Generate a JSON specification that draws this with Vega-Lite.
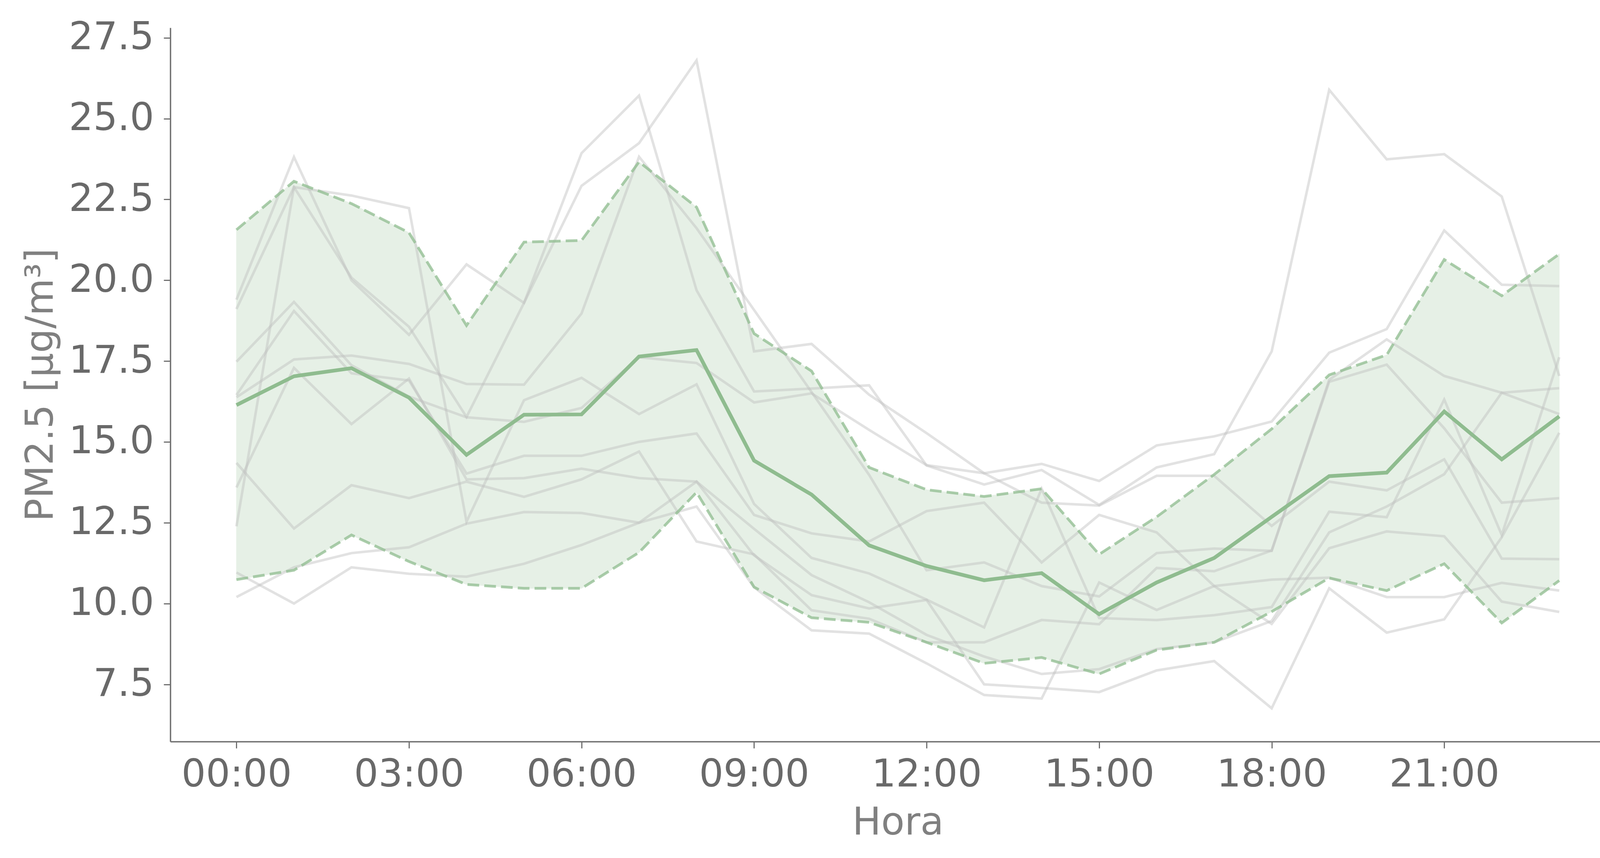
{
  "$schema": "https://vega.github.io/schema/vega-lite/v6.json",
  "width": 4199,
  "height": 2196,
  "autosize": {"type": "fit", "contains": "padding"},
  "padding": {"left": 56, "top": 52, "right": 38, "bottom": 41},
  "background": "white",
  "config": {
    "view": {"stroke": null},
    "font": "DejaVu Sans",
    "axis": {
      "grid": false,
      "domainColor": "#707070",
      "domainWidth": 3.5,
      "tickColor": "#707070",
      "tickWidth": 3,
      "tickSize": 17,
      "labelFont": "DejaVu Sans",
      "labelFontSize": 98,
      "labelLimit": 2000,
      "labelColor": "#696969",
      "titleFont": "DejaVu Sans",
      "titleFontSize": 98,
      "titleFontWeight": "normal",
      "titleColor": "#808080",
      "titleLimit": 3000
    }
  },
  "datasets": {
    "days": [
      {"d":"1","h":0,"v":19.40},{"d":"1","h":1,"v":23.81},{"d":"1","h":2,"v":20.00},{"d":"1","h":3,"v":18.31},{"d":"1","h":4,"v":20.49},{"d":"1","h":5,"v":19.30},{"d":"1","h":6,"v":22.92},{"d":"1","h":7,"v":24.24},{"d":"1","h":8,"v":26.80},{"d":"1","h":9,"v":17.80},{"d":"1","h":10,"v":18.03},{"d":"1","h":11,"v":16.46},{"d":"1","h":12,"v":15.27},{"d":"1","h":13,"v":14.03},{"d":"1","h":14,"v":14.32},{"d":"1","h":15,"v":13.79},{"d":"1","h":16,"v":14.89},{"d":"1","h":17,"v":15.17},{"d":"1","h":18,"v":15.63},{"d":"1","h":19,"v":17.76},{"d":"1","h":20,"v":18.49},{"d":"1","h":21,"v":21.54},{"d":"1","h":22,"v":19.86},{"d":"1","h":23,"v":19.82},
      {"d":"2","h":0,"v":19.11},{"d":"2","h":1,"v":22.88},{"d":"2","h":2,"v":20.08},{"d":"2","h":3,"v":18.56},{"d":"2","h":4,"v":15.77},{"d":"2","h":5,"v":19.30},{"d":"2","h":6,"v":23.93},{"d":"2","h":7,"v":25.71},{"d":"2","h":8,"v":19.69},{"d":"2","h":9,"v":16.56},{"d":"2","h":10,"v":16.65},{"d":"2","h":11,"v":16.75},{"d":"2","h":12,"v":14.27},{"d":"2","h":13,"v":13.68},{"d":"2","h":14,"v":14.13},{"d":"2","h":15,"v":13.05},{"d":"2","h":16,"v":14.21},{"d":"2","h":17,"v":14.62},{"d":"2","h":18,"v":17.80},{"d":"2","h":19,"v":25.89},{"d":"2","h":20,"v":23.74},{"d":"2","h":21,"v":23.90},{"d":"2","h":22,"v":22.59},{"d":"2","h":23,"v":17.04},
      {"d":"3","h":0,"v":12.39},{"d":"3","h":1,"v":22.88},{"d":"3","h":2,"v":22.62},{"d":"3","h":3,"v":22.23},{"d":"3","h":4,"v":12.53},{"d":"3","h":5,"v":16.29},{"d":"3","h":6,"v":16.98},{"d":"3","h":7,"v":15.86},{"d":"3","h":8,"v":16.78},{"d":"3","h":9,"v":13.08},{"d":"3","h":10,"v":11.41},{"d":"3","h":11,"v":10.93},{"d":"3","h":12,"v":10.12},{"d":"3","h":13,"v":9.26},{"d":"3","h":14,"v":13.55},{"d":"3","h":15,"v":9.55},{"d":"3","h":16,"v":9.49},{"d":"3","h":17,"v":9.64},{"d":"3","h":18,"v":9.89},{"d":"3","h":19,"v":12.84},{"d":"3","h":20,"v":12.67},{"d":"3","h":21,"v":16.31},{"d":"3","h":22,"v":12.12},{"d":"3","h":23,"v":17.62},
      {"d":"4","h":0,"v":16.38},{"d":"4","h":1,"v":17.55},{"d":"4","h":2,"v":17.67},{"d":"4","h":3,"v":17.41},{"d":"4","h":4,"v":16.79},{"d":"4","h":5,"v":16.77},{"d":"4","h":6,"v":18.97},{"d":"4","h":7,"v":23.82},{"d":"4","h":8,"v":21.61},{"d":"4","h":9,"v":19.08},{"d":"4","h":10,"v":16.54},{"d":"4","h":11,"v":13.98},{"d":"4","h":12,"v":11.03},{"d":"4","h":13,"v":11.27},{"d":"4","h":14,"v":10.54},{"d":"4","h":15,"v":10.22},{"d":"4","h":16,"v":11.56},{"d":"4","h":17,"v":11.70},{"d":"4","h":18,"v":11.63},{"d":"4","h":19,"v":16.92},{"d":"4","h":20,"v":18.17},{"d":"4","h":21,"v":17.04},{"d":"4","h":22,"v":16.52},{"d":"4","h":23,"v":16.66},
      {"d":"5","h":0,"v":17.48},{"d":"5","h":1,"v":19.33},{"d":"5","h":2,"v":17.37},{"d":"5","h":3,"v":16.40},{"d":"5","h":4,"v":15.76},{"d":"5","h":5,"v":15.62},{"d":"5","h":6,"v":16.05},{"d":"5","h":7,"v":17.62},{"d":"5","h":8,"v":17.44},{"d":"5","h":9,"v":16.22},{"d":"5","h":10,"v":16.50},{"d":"5","h":11,"v":15.37},{"d":"5","h":12,"v":14.28},{"d":"5","h":13,"v":14.03},{"d":"5","h":14,"v":13.12},{"d":"5","h":15,"v":13.03},{"d":"5","h":16,"v":13.95},{"d":"5","h":17,"v":13.95},{"d":"5","h":18,"v":12.40},{"d":"5","h":19,"v":13.77},{"d":"5","h":20,"v":13.50},{"d":"5","h":21,"v":14.46},{"d":"5","h":22,"v":11.39},{"d":"5","h":23,"v":11.37},
      {"d":"6","h":0,"v":16.45},{"d":"6","h":1,"v":19.05},{"d":"6","h":2,"v":17.12},{"d":"6","h":3,"v":16.90},{"d":"6","h":4,"v":14.02},{"d":"6","h":5,"v":14.57},{"d":"6","h":6,"v":14.57},{"d":"6","h":7,"v":15.00},{"d":"6","h":8,"v":15.26},{"d":"6","h":9,"v":12.74},{"d":"6","h":10,"v":12.17},{"d":"6","h":11,"v":11.92},{"d":"6","h":12,"v":12.86},{"d":"6","h":13,"v":13.12},{"d":"6","h":14,"v":11.27},{"d":"6","h":15,"v":12.74},{"d":"6","h":16,"v":12.20},{"d":"6","h":17,"v":10.54},{"d":"6","h":18,"v":9.37},{"d":"6","h":19,"v":11.71},{"d":"6","h":20,"v":12.23},{"d":"6","h":21,"v":12.08},{"d":"6","h":22,"v":10.06},{"d":"6","h":23,"v":9.74},
      {"d":"7","h":0,"v":13.59},{"d":"7","h":1,"v":17.29},{"d":"7","h":2,"v":15.55},{"d":"7","h":3,"v":16.96},{"d":"7","h":4,"v":13.84},{"d":"7","h":5,"v":13.88},{"d":"7","h":6,"v":14.17},{"d":"7","h":7,"v":13.88},{"d":"7","h":8,"v":13.77},{"d":"7","h":9,"v":12.31},{"d":"7","h":10,"v":10.88},{"d":"7","h":11,"v":10.04},{"d":"7","h":12,"v":9.03},{"d":"7","h":13,"v":8.36},{"d":"7","h":14,"v":7.82},{"d":"7","h":15,"v":7.97},{"d":"7","h":16,"v":8.59},{"d":"7","h":17,"v":8.80},{"d":"7","h":18,"v":9.46},{"d":"7","h":19,"v":12.20},{"d":"7","h":20,"v":13.00},{"d":"7","h":21,"v":14.00},{"d":"7","h":22,"v":16.52},{"d":"7","h":23,"v":15.86},
      {"d":"8","h":0,"v":14.35},{"d":"8","h":1,"v":12.32},{"d":"8","h":2,"v":13.66},{"d":"8","h":3,"v":13.26},{"d":"8","h":4,"v":13.77},{"d":"8","h":5,"v":13.30},{"d":"8","h":6,"v":13.84},{"d":"8","h":7,"v":14.70},{"d":"8","h":8,"v":11.92},{"d":"8","h":9,"v":11.52},{"d":"8","h":10,"v":9.79},{"d":"8","h":11,"v":9.53},{"d":"8","h":12,"v":8.80},{"d":"8","h":13,"v":8.80},{"d":"8","h":14,"v":9.49},{"d":"8","h":15,"v":9.36},{"d":"8","h":16,"v":11.10},{"d":"8","h":17,"v":11.00},{"d":"8","h":18,"v":11.64},{"d":"8","h":19,"v":16.86},{"d":"8","h":20,"v":17.39},{"d":"8","h":21,"v":15.42},{"d":"8","h":22,"v":13.12},{"d":"8","h":23,"v":13.26},
      {"d":"9","h":0,"v":10.20},{"d":"9","h":1,"v":11.12},{"d":"9","h":2,"v":11.56},{"d":"9","h":3,"v":11.74},{"d":"9","h":4,"v":12.47},{"d":"9","h":5,"v":12.83},{"d":"9","h":6,"v":12.80},{"d":"9","h":7,"v":12.50},{"d":"9","h":8,"v":13.00},{"d":"9","h":9,"v":10.50},{"d":"9","h":10,"v":9.17},{"d":"9","h":11,"v":9.07},{"d":"9","h":12,"v":8.15},{"d":"9","h":13,"v":7.17},{"d":"9","h":14,"v":7.06},{"d":"9","h":15,"v":10.65},{"d":"9","h":16,"v":9.80},{"d":"9","h":17,"v":10.54},{"d":"9","h":18,"v":10.74},{"d":"9","h":19,"v":10.80},{"d":"9","h":20,"v":10.20},{"d":"9","h":21,"v":10.20},{"d":"9","h":22,"v":10.64},{"d":"9","h":23,"v":10.40},
      {"d":"10","h":0,"v":10.96},{"d":"10","h":1,"v":10.00},{"d":"10","h":2,"v":11.12},{"d":"10","h":3,"v":10.92},{"d":"10","h":4,"v":10.83},{"d":"10","h":5,"v":11.23},{"d":"10","h":6,"v":11.81},{"d":"10","h":7,"v":12.50},{"d":"10","h":8,"v":13.77},{"d":"10","h":9,"v":11.49},{"d":"10","h":10,"v":10.26},{"d":"10","h":11,"v":9.85},{"d":"10","h":12,"v":10.11},{"d":"10","h":13,"v":7.50},{"d":"10","h":14,"v":7.39},{"d":"10","h":15,"v":7.26},{"d":"10","h":16,"v":7.93},{"d":"10","h":17,"v":8.22},{"d":"10","h":18,"v":6.76},{"d":"10","h":19,"v":10.47},{"d":"10","h":20,"v":9.10},{"d":"10","h":21,"v":9.51},{"d":"10","h":22,"v":12.05},{"d":"10","h":23,"v":15.28}
    ],
    "stats": [
      {"h":0,"mean":16.14,"upper":21.56,"lower":10.74},
      {"h":1,"mean":17.03,"upper":23.06,"lower":11.03},
      {"h":2,"mean":17.28,"upper":22.37,"lower":12.12},
      {"h":3,"mean":16.37,"upper":21.47,"lower":11.30},
      {"h":4,"mean":14.60,"upper":18.60,"lower":10.59},
      {"h":5,"mean":15.84,"upper":21.18,"lower":10.47},
      {"h":6,"mean":15.85,"upper":21.23,"lower":10.47},
      {"h":7,"mean":17.64,"upper":23.66,"lower":11.58},
      {"h":8,"mean":17.84,"upper":22.26,"lower":13.44},
      {"h":9,"mean":14.42,"upper":18.35,"lower":10.51},
      {"h":10,"mean":13.37,"upper":17.19,"lower":9.56},
      {"h":11,"mean":11.80,"upper":14.21,"lower":9.42},
      {"h":12,"mean":11.16,"upper":13.52,"lower":8.80},
      {"h":13,"mean":10.72,"upper":13.31,"lower":8.15},
      {"h":14,"mean":10.94,"upper":13.55,"lower":8.33},
      {"h":15,"mean":9.67,"upper":11.52,"lower":7.82},
      {"h":16,"mean":10.65,"upper":12.68,"lower":8.56},
      {"h":17,"mean":11.41,"upper":13.99,"lower":8.80},
      {"h":18,"mean":12.68,"upper":15.40,"lower":9.75},
      {"h":19,"mean":13.94,"upper":17.07,"lower":10.79},
      {"h":20,"mean":14.05,"upper":17.69,"lower":10.40},
      {"h":21,"mean":15.94,"upper":20.64,"lower":11.23},
      {"h":22,"mean":14.46,"upper":19.52,"lower":9.40},
      {"h":23,"mean":15.79,"upper":20.81,"lower":10.71}
    ]
  },
  "encoding": {
    "x": {
      "field": "h",
      "type": "quantitative",
      "scale": {"domain": [-1.15, 24.15], "nice": false, "zero": false},
      "axis": {
        "values": [0, 3, 6, 9, 12, 15, 18, 21],
        "labelExpr": "(datum.value < 10 ? '0' : '') + datum.value + ':00'",
        "labelPadding": 20,
        "title": "Hora",
        "titleBaseline": "alphabetic",
        "titleY": 237,
        "titleAnchor": "middle"
      }
    }
  },
  "layer": [
    {
      "data": {"name": "stats"},
      "mark": {"type": "area", "color": "#8fbc8f", "opacity": 0.22, "stroke": "#8fbc8f", "strokeOpacity": 0.6, "strokeWidth": 2},
      "encoding": {
        "y": {
          "field": "upper",
          "type": "quantitative",
          "scale": {"domain": [5.73, 27.81], "nice": false, "zero": false},
          "axis": {
            "values": [7.5, 10, 12.5, 15, 17.5, 20, 22.5, 25, 27.5],
            "format": ".1f",
            "labelPadding": 25,
            "title": "PM2.5 [μg/m³]",
            "titleBaseline": "alphabetic",
            "titleAngle": 270,
            "titleX": -302,
            "titleAnchor": "middle"
          }
        },
        "y2": {"field": "lower"}
      }
    },
    {
      "data": {"name": "days"},
      "mark": {"type": "line", "color": "#bfbfbf", "opacity": 0.45, "strokeWidth": 6.5},
      "encoding": {
        "y": {"field": "v", "type": "quantitative"},
        "detail": {"field": "d"},
        "order": {"field": "h"}
      }
    },
    {
      "data": {"name": "stats"},
      "mark": {"type": "line", "color": "#8fbc8f", "opacity": 0.75, "strokeWidth": 7, "strokeDash": [30, 13]},
      "encoding": {"y": {"field": "upper", "type": "quantitative"}}
    },
    {
      "data": {"name": "stats"},
      "mark": {"type": "line", "color": "#8fbc8f", "opacity": 0.75, "strokeWidth": 7, "strokeDash": [30, 13]},
      "encoding": {"y": {"field": "lower", "type": "quantitative"}}
    },
    {
      "data": {"name": "stats"},
      "mark": {"type": "line", "color": "#8fbc8f", "strokeWidth": 9.5},
      "encoding": {"y": {"field": "mean", "type": "quantitative"}}
    }
  ]
}
